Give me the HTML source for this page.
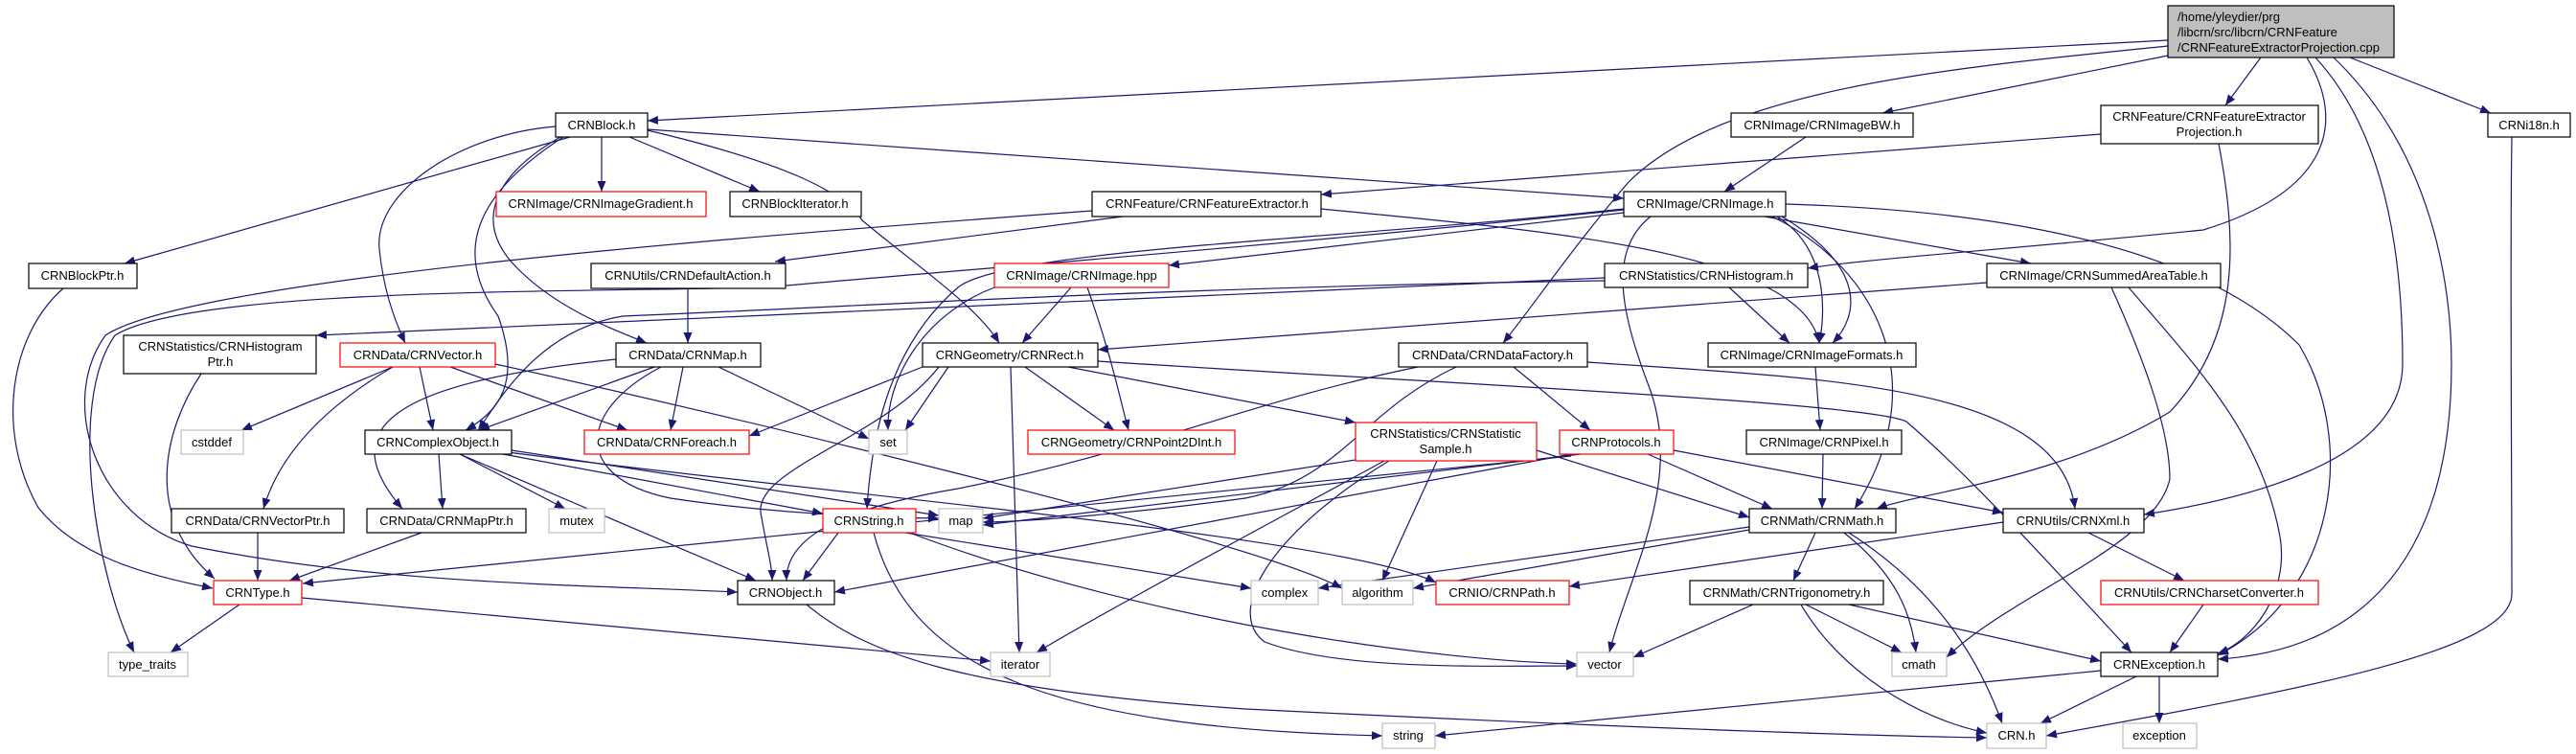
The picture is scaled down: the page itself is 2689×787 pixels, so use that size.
<!DOCTYPE html>
<html><head><meta charset="utf-8"><style>
html,body{margin:0;padding:0;background:#fff;}
svg{display:block;}
text{font-family:"Liberation Sans",Arial,sans-serif;font-size:13px;fill:#000;}
.e{fill:none;stroke:#191970;stroke-width:1.2;}
.n{fill:#fff;stroke:#000;stroke-width:1.2;}
.r{fill:#fff;stroke:#ff0000;stroke-width:1.2;}
.g{fill:#fff;stroke:#bfbfbf;stroke-width:1.2;}
</style></head><body>
<svg width="2689" height="787" viewBox="0 0 2689 787" xmlns="http://www.w3.org/2000/svg">
<defs><marker id="a" markerUnits="userSpaceOnUse" markerWidth="12" markerHeight="9" refX="11" refY="4.5" orient="auto"><path d="M0,0 L11,4.5 L0,9 z" fill="#191970"/></marker></defs>
<g class="e" marker-end="url(#a)">
<path d="M2263,42 L676,126"/>
<path d="M2263,58 L1965,118"/>
<path d="M2360,60 L2323,110"/>
<path d="M2453,60 L2600,118"/>
<path d="M2263,48 C2050,70 1800,90 1700,190 C1640,260 1600,320 1569,358"/>
<path d="M2408,60 C2450,130 2430,200 2300,240 C2100,260 1950,270 1887,280"/>
<path d="M2417,60 C2500,150 2508,300 2508,380 C2508,480 2350,520 2238,537"/>
<path d="M2436,60 C2540,160 2559,300 2559,380 C2559,600 2450,680 2315,688"/>
<path d="M2316,150 C2335,250 2340,350 2265,430 C2150,500 2000,515 1959,531"/>
<path d="M2622,143 C2620,250 2622,500 2622,620 C2622,680 2400,720 2136,768"/>
<path d="M1864,213 C2100,220 2300,260 2400,360 C2460,460 2440,620 2315,684"/>
<path d="M2204,300 C2240,380 2265,450 2265,500 C2250,570 2100,620 2032,686"/>
<path d="M2222,300 C2290,380 2360,450 2380,560 C2390,620 2350,670 2315,682"/>
<path d="M1805,300 L1868,358"/>
<path d="M1855,226 C1910,260 1905,330 1899,358"/>
<path d="M1860,226 C1950,280 1940,330 1913,358"/>
<path d="M1379,218 C1600,240 1880,260 1899,358"/>
<path d="M1850,226 C1960,280 2020,400 1936,531"/>
<path d="M1842,226 L2120,275"/>
<path d="M1723,226 C1680,260 1690,320 1720,400 C1760,500 1700,600 1680,681"/>
<path d="M1695,222 L1220,277"/>
<path d="M1695,218 C1400,250 1050,260 1000,300 C930,360 910,450 905,531"/>
<path d="M1140,220 C800,245 200,290 110,350 C60,420 100,540 200,570 C400,610 600,610 770,618"/>
<path d="M1172,226 L809,273"/>
<path d="M1695,219 C1300,260 900,290 800,300 C600,305 200,300 120,350 C70,420 100,600 140,681"/>
<path d="M1675,290 L330,350"/>
<path d="M1675,293 C1200,300 900,320 650,330 C560,345 520,420 499,449"/>
<path d="M1885,143 L1800,200"/>
<path d="M2193,140 L1379,203"/>
<path d="M1895,383 L1900,449"/>
<path d="M1903,474 L1902,531"/>
<path d="M2074,295 L1146,365"/>
<path d="M1118,300 L1067,358"/>
<path d="M1135,300 C1160,370 1170,420 1178,449"/>
<path d="M1038,300 C960,330 925,400 927,449"/>
<path d="M628,143 L628,200"/>
<path d="M657,143 L793,200"/>
<path d="M595,143 L130,275"/>
<path d="M676,135 L1695,207"/>
<path d="M580,132 C480,140 390,200 396,260 C400,300 410,330 423,358"/>
<path d="M585,143 C520,180 490,230 540,280 C580,320 630,340 675,358"/>
<path d="M588,143 C500,200 470,260 520,330 C545,400 520,430 486,449"/>
<path d="M676,136 C820,170 880,200 900,230 C960,280 1020,320 1043,358"/>
<path d="M718,301 L718,358"/>
<path d="M210,390 C170,450 150,540 224,604"/>
<path d="M66,301 C10,350 -5,450 40,530 C80,580 150,600 222,614"/>
<path d="M410,383 L252,449"/>
<path d="M438,383 L452,449"/>
<path d="M470,383 L655,449"/>
<path d="M410,383 C330,430 290,480 275,531"/>
<path d="M517,380 C700,420 1300,560 1401,614"/>
<path d="M683,383 L500,449"/>
<path d="M713,383 L700,449"/>
<path d="M750,383 L907,458"/>
<path d="M643,375 C400,400 350,450 420,531"/>
<path d="M690,383 C600,430 600,500 700,520 C800,535 900,540 980,541"/>
<path d="M990,383 L945,449"/>
<path d="M963,383 L782,455"/>
<path d="M1070,383 L1163,449"/>
<path d="M1055,383 L1064,681"/>
<path d="M1115,383 L1415,441"/>
<path d="M1146,377 C1500,400 1950,420 1990,440 C2060,500 2150,600 2225,681"/>
<path d="M980,383 C920,460 780,490 795,540 C800,570 806,590 806,606"/>
<path d="M1480,383 C1300,420 1200,470 1000,510 C880,530 820,560 821,606"/>
<path d="M480,474 L789,606"/>
<path d="M875,556 L838,606"/>
<path d="M842,631 C900,680 1000,720 1300,740 C1700,760 1950,768 2074,770"/>
<path d="M315,624 L1034,690"/>
<path d="M912,556 C950,700 1100,760 1443,768"/>
<path d="M945,556 L1306,614"/>
<path d="M952,557 C1200,650 1500,690 1646,693"/>
<path d="M2193,700 L1498,768"/>
<path d="M2230,706 L2130,755"/>
<path d="M2254,706 L2254,755"/>
<path d="M1880,631 C1920,700 2000,750 2074,765"/>
<path d="M1885,631 L1985,681"/>
<path d="M1930,631 L2193,690"/>
<path d="M1830,631 L1705,686"/>
<path d="M1895,556 L1872,606"/>
<path d="M1925,556 C1980,600 1995,640 2000,681"/>
<path d="M1930,556 C2030,620 2070,700 2090,755"/>
<path d="M1826,550 L1376,614"/>
<path d="M1826,553 L1475,614"/>
<path d="M2091,545 L1638,612"/>
<path d="M2180,556 L2280,606"/>
<path d="M2300,631 L2265,681"/>
<path d="M1415,480 L1026,541"/>
<path d="M1500,481 L1443,606"/>
<path d="M1445,481 C1300,560 1150,640 1082,681"/>
<path d="M1450,481 C1320,560 1280,640 1320,670 C1400,700 1550,695 1646,695"/>
<path d="M1604,470 L1826,540"/>
<path d="M1580,383 L1660,449"/>
<path d="M1520,383 C1420,430 1400,500 1300,520 C1150,540 1050,545 1026,545"/>
<path d="M1657,378 C1900,395 2150,400 2166,531"/>
<path d="M1720,474 L1850,531"/>
<path d="M1747,470 L2091,535"/>
<path d="M1650,474 L1026,548"/>
<path d="M1640,474 L871,618"/>
<path d="M1640,476 L316,609"/>
<path d="M534,470 L980,538"/>
<path d="M525,474 L859,536"/>
<path d="M530,472 C900,520 1400,560 1499,608"/>
<path d="M250,631 L178,681"/>
<path d="M269,556 L269,606"/>
<path d="M440,556 L302,606"/>
<path d="M458,474 L462,531"/>
<path d="M480,474 L590,531"/>
</g>
<g>
<rect x="2263" y="6" width="236" height="54" fill="#bfbfbf" stroke="#000" stroke-width="1.2"/>
<text x="2273" y="22">/home/yleydier/prg</text>
<text x="2273" y="38">/libcrn/src/libcrn/CRNFeature</text>
<text x="2273" y="54">/CRNFeatureExtractorProjection.cpp</text>
</g>
<g text-anchor="middle">
<rect class="n" x="580" y="118" width="96" height="25"/><text x="628" y="135">CRNBlock.h</text>
<rect class="n" x="1807" y="118" width="190" height="25"/><text x="1902" y="135">CRNImage/CRNImageBW.h</text>
<rect class="n" x="2193" y="110" width="227" height="40"/><text x="2306" y="126">CRNFeature/CRNFeatureExtractor</text><text x="2306" y="142">Projection.h</text>
<rect class="n" x="2597" y="118" width="86" height="25"/><text x="2640" y="135">CRNi18n.h</text>
<rect class="r" x="518" y="200" width="219" height="26"/><text x="627" y="217">CRNImage/CRNImageGradient.h</text>
<rect class="n" x="762" y="200" width="137" height="26"/><text x="830" y="217">CRNBlockIterator.h</text>
<rect class="n" x="1140" y="200" width="239" height="26"/><text x="1260" y="217">CRNFeature/CRNFeatureExtractor.h</text>
<rect class="n" x="1695" y="200" width="169" height="26"/><text x="1780" y="217">CRNImage/CRNImage.h</text>
<rect class="n" x="30" y="275" width="113" height="26"/><text x="86" y="292">CRNBlockPtr.h</text>
<rect class="n" x="617" y="275" width="203" height="26"/><text x="718" y="292">CRNUtils/CRNDefaultAction.h</text>
<rect class="r" x="1038" y="275" width="182" height="25"/><text x="1129" y="292">CRNImage/CRNImage.hpp</text>
<rect class="n" x="1675" y="275" width="212" height="25"/><text x="1781" y="292">CRNStatistics/CRNHistogram.h</text>
<rect class="n" x="2074" y="275" width="244" height="25"/><text x="2196" y="292">CRNImage/CRNSummedAreaTable.h</text>
<rect class="n" x="129" y="350" width="201" height="40"/><text x="230" y="366">CRNStatistics/CRNHistogram</text><text x="230" y="382">Ptr.h</text>
<rect class="r" x="355" y="358" width="162" height="25"/><text x="436" y="375">CRNData/CRNVector.h</text>
<rect class="n" x="643" y="358" width="151" height="25"/><text x="718" y="375">CRNData/CRNMap.h</text>
<rect class="n" x="963" y="358" width="183" height="25"/><text x="1054" y="375">CRNGeometry/CRNRect.h</text>
<rect class="n" x="1460" y="358" width="197" height="25"/><text x="1558" y="375">CRNData/CRNDataFactory.h</text>
<rect class="n" x="1783" y="358" width="217" height="25"/><text x="1891" y="375">CRNImage/CRNImageFormats.h</text>
<rect class="g" x="189" y="449" width="65" height="25"/><text x="221" y="466">cstddef</text>
<rect class="n" x="381" y="449" width="153" height="25"/><text x="457" y="466">CRNComplexObject.h</text>
<rect class="r" x="610" y="449" width="172" height="25"/><text x="696" y="466">CRNData/CRNForeach.h</text>
<rect class="g" x="907" y="449" width="40" height="25"/><text x="927" y="466">set</text>
<rect class="r" x="1073" y="449" width="216" height="25"/><text x="1181" y="466">CRNGeometry/CRNPoint2DInt.h</text>
<rect class="r" x="1415" y="441" width="189" height="40"/><text x="1509" y="457">CRNStatistics/CRNStatistic</text><text x="1509" y="473">Sample.h</text>
<rect class="r" x="1628" y="449" width="119" height="25"/><text x="1687" y="466">CRNProtocols.h</text>
<rect class="n" x="1823" y="449" width="162" height="25"/><text x="1904" y="466">CRNImage/CRNPixel.h</text>
<rect class="n" x="179" y="531" width="180" height="25"/><text x="269" y="548">CRNData/CRNVectorPtr.h</text>
<rect class="n" x="383" y="531" width="166" height="25"/><text x="466" y="548">CRNData/CRNMapPtr.h</text>
<rect class="g" x="573" y="531" width="58" height="25"/><text x="602" y="548">mutex</text>
<rect class="r" x="859" y="531" width="97" height="25"/><text x="907" y="548">CRNString.h</text>
<rect class="g" x="980" y="531" width="46" height="25"/><text x="1003" y="548">map</text>
<rect class="n" x="1826" y="531" width="153" height="25"/><text x="1902" y="548">CRNMath/CRNMath.h</text>
<rect class="n" x="2091" y="531" width="147" height="25"/><text x="2164" y="548">CRNUtils/CRNXml.h</text>
<rect class="r" x="223" y="606" width="92" height="25"/><text x="269" y="623">CRNType.h</text>
<rect class="n" x="770" y="606" width="101" height="25"/><text x="820" y="623">CRNObject.h</text>
<rect class="g" x="1306" y="606" width="70" height="25"/><text x="1341" y="623">complex</text>
<rect class="g" x="1401" y="606" width="74" height="25"/><text x="1438" y="623">algorithm</text>
<rect class="r" x="1499" y="606" width="139" height="25"/><text x="1568" y="623">CRNIO/CRNPath.h</text>
<rect class="n" x="1764" y="606" width="202" height="25"/><text x="1865" y="623">CRNMath/CRNTrigonometry.h</text>
<rect class="r" x="2193" y="606" width="227" height="25"/><text x="2306" y="623">CRNUtils/CRNCharsetConverter.h</text>
<rect class="g" x="113" y="681" width="83" height="25"/><text x="154" y="698">type_traits</text>
<rect class="g" x="1034" y="681" width="62" height="25"/><text x="1065" y="698">iterator</text>
<rect class="g" x="1646" y="681" width="59" height="25"/><text x="1675" y="698">vector</text>
<rect class="g" x="1975" y="681" width="57" height="25"/><text x="2003" y="698">cmath</text>
<rect class="n" x="2193" y="681" width="122" height="25"/><text x="2254" y="698">CRNException.h</text>
<rect class="g" x="1443" y="755" width="55" height="26"/><text x="1470" y="772">string</text>
<rect class="g" x="2074" y="755" width="62" height="26"/><text x="2105" y="772">CRN.h</text>
<rect class="g" x="2216" y="755" width="77" height="26"/><text x="2254" y="772">exception</text>
</g>
</svg>
</body></html>
